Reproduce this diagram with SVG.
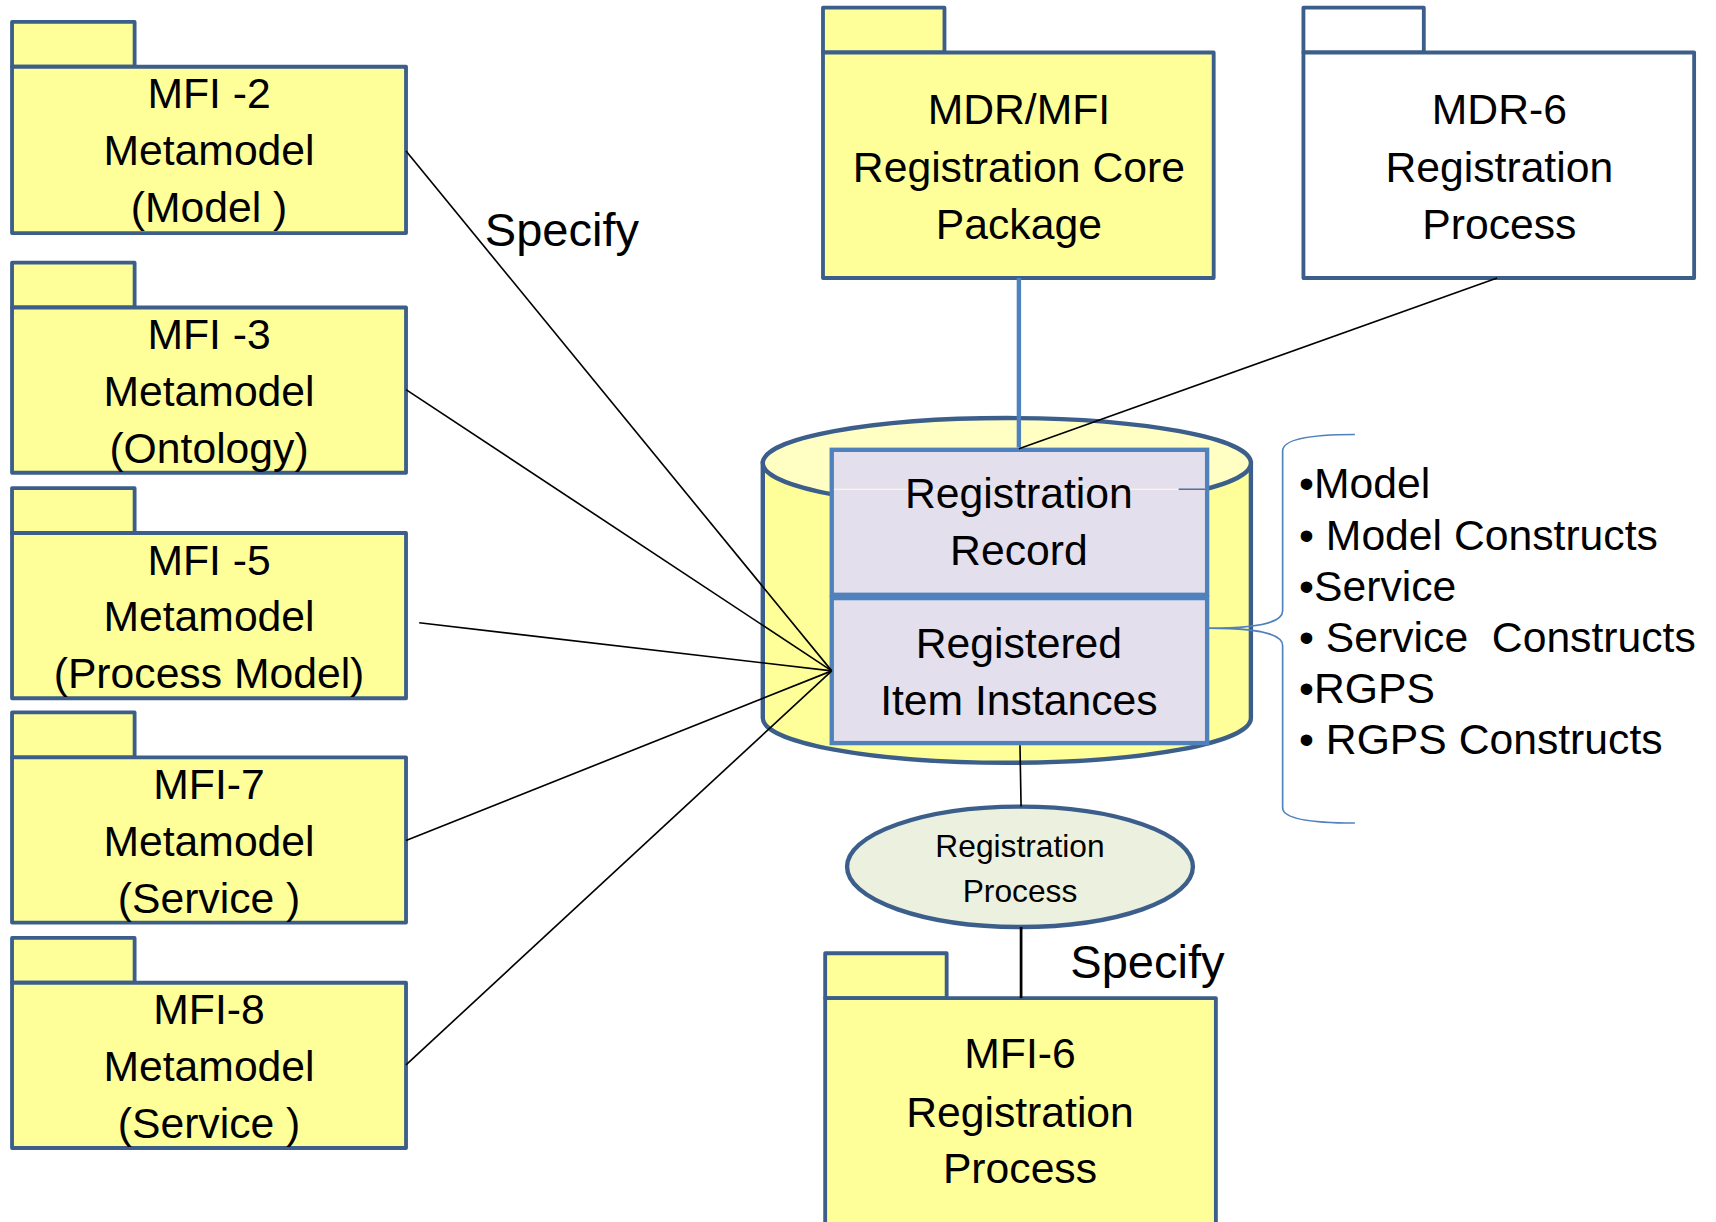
<svg xmlns="http://www.w3.org/2000/svg" width="1716" height="1222" viewBox="0 0 1716 1222">
<style>
.pk{fill:#FFFF99;stroke:#3C5E8B;stroke-width:3.5;stroke-linejoin:round}
.pkw{fill:#FFFFFF;stroke:#3C5E8B;stroke-width:3.5;stroke-linejoin:round}
.lbl{font-family:"Liberation Sans",Arial,sans-serif;font-size:39px;text-anchor:middle;fill:#000}
.sm{font-family:"Liberation Sans",Arial,sans-serif;font-size:29px;text-anchor:middle;fill:#000}
.sp{font-family:"Liberation Sans",Arial,sans-serif;font-size:43px;fill:#000}
.bl{font-family:"Liberation Sans",Arial,sans-serif;font-size:39px;fill:#000}
.cn{stroke:#000;stroke-width:1.5;fill:none}
.rec{fill:#E4DFEC;stroke:#4F81BD;stroke-width:4}
</style>
<rect x="0" y="0" width="1716" height="1222" fill="#FFFFFF"/>
<g transform="scale(1.0944)">
  <g id="mfi2">
    <rect class="pk" x="11" y="20" width="112" height="41"/>
    <rect class="pk" x="11" y="61" width="360" height="152"/>
    <text class="lbl" x="191" y="99">MFI -2</text>
    <text class="lbl" x="191" y="151">Metamodel</text>
    <text class="lbl" x="191" y="203">(Model )</text>
  </g>
  <g id="mfi3">
    <rect class="pk" x="11" y="240" width="112" height="41"/>
    <rect class="pk" x="11" y="281" width="360" height="151"/>
    <text class="lbl" x="191" y="319">MFI -3</text>
    <text class="lbl" x="191" y="371">Metamodel</text>
    <text class="lbl" x="191" y="423">(Ontology)</text>
  </g>
  <g id="mfi5">
    <rect class="pk" x="11" y="446" width="112" height="41"/>
    <rect class="pk" x="11" y="487" width="360" height="151"/>
    <text class="lbl" x="191" y="525">MFI -5</text>
    <text class="lbl" x="191" y="577">Metamodel</text>
    <text class="lbl" x="191" y="629">(Process Model)</text>
  </g>
  <g id="mfi7">
    <rect class="pk" x="11" y="651" width="112" height="41"/>
    <rect class="pk" x="11" y="692" width="360" height="151"/>
    <text class="lbl" x="191" y="730">MFI-7</text>
    <text class="lbl" x="191" y="782">Metamodel</text>
    <text class="lbl" x="191" y="834">(Service )</text>
  </g>
  <g id="mfi8">
    <rect class="pk" x="11" y="857" width="112" height="41"/>
    <rect class="pk" x="11" y="898" width="360" height="151"/>
    <text class="lbl" x="191" y="936">MFI-8</text>
    <text class="lbl" x="191" y="988">Metamodel</text>
    <text class="lbl" x="191" y="1040">(Service )</text>
  </g>
  <g id="mdr-mfi-core">
    <rect class="pk" x="752" y="7" width="111" height="41"/>
    <rect class="pk" x="752" y="48" width="357" height="206"/>
    <text class="lbl" x="931" y="113">MDR/MFI</text>
    <text class="lbl" x="931" y="166">Registration Core</text>
    <text class="lbl" x="931" y="218">Package</text>
  </g>
  <g id="mdr6">
    <rect class="pkw" x="1191" y="7" width="110" height="41"/>
    <rect class="pkw" x="1191" y="48" width="357" height="206"/>
    <text class="lbl" x="1370" y="113">MDR-6</text>
    <text class="lbl" x="1370" y="166">Registration</text>
    <text class="lbl" x="1370" y="218">Process</text>
  </g>
  <g id="repository">
    <path d="M697,423 L697,656 A223,41 0 0 0 1143,656 L1143,423 Z" fill="#FFFF99" stroke="#3C5E8B" stroke-width="4"/>
    <ellipse cx="920" cy="423" rx="223" ry="41" fill="#FFFFC4" stroke="#3C5E8B" stroke-width="4"/>
    <rect class="rec" x="760" y="411" width="343" height="132.5"/>
    <rect class="rec" x="760" y="546.5" width="343" height="132.5"/>
    <line x1="762" y1="447" x2="1077" y2="447" stroke="#FFFFD0" stroke-width="1"/>
    <line x1="1077" y1="447" x2="1101" y2="447" stroke="#3C5E8B" stroke-width="1.2"/>
    <text class="lbl" x="931" y="464">Registration</text>
    <text class="lbl" x="931" y="516">Record</text>
    <text class="lbl" x="931" y="601">Registered</text>
    <text class="lbl" x="931" y="653">Item Instances</text>
  </g>
  <g id="registration-process">
    <ellipse cx="932" cy="792" rx="158" ry="55" fill="#EBF1DE" stroke="#3C5E8B" stroke-width="4"/>
    <text class="sm" x="932" y="783">Registration</text>
    <text class="sm" x="932" y="824">Process</text>
  </g>
  <g id="mfi6">
    <rect class="pk" x="754" y="871" width="111" height="41"/>
    <rect class="pk" x="754" y="912" width="357" height="220"/>
    <text class="lbl" x="932" y="976">MFI-6</text>
    <text class="lbl" x="932" y="1030">Registration</text>
    <text class="lbl" x="932" y="1081">Process</text>
  </g>
  <g id="item-list">
    <path d="M1238,397 C1198,397 1172,401 1172,412 L1172,558 C1172,569 1150,574 1104,574 C1150,574 1172,579 1172,590 L1172,738 C1172,748 1198,752 1238,752" fill="none" stroke="#4F81BD" stroke-width="1.5"/>
    <text class="bl" x="1187" y="455">•Model</text>
    <text class="bl" x="1187" y="503">• Model Constructs</text>
    <text class="bl" x="1187" y="549">•Service</text>
    <text class="bl" x="1187" y="596" xml:space="preserve">• Service  Constructs</text>
    <text class="bl" x="1187" y="642">•RGPS</text>
    <text class="bl" x="1187" y="689">• RGPS Constructs</text>
  </g>
  <g id="connectors">
    <line class="cn" x1="371" y1="138" x2="760" y2="613"/>
    <line class="cn" x1="371" y1="356" x2="760" y2="613"/>
    <line class="cn" x1="383" y1="569" x2="760" y2="613"/>
    <line class="cn" x1="371" y1="768" x2="760" y2="613"/>
    <line class="cn" x1="371" y1="973" x2="760" y2="613"/>
    <line x1="931" y1="254" x2="931" y2="409" stroke="#4F81BD" stroke-width="4"/>
    <line class="cn" x1="1368" y1="254" x2="931" y2="410"/>
    <line class="cn" x1="932" y1="681" x2="933" y2="737"/>
    <line x1="933" y1="847" x2="933" y2="912" stroke="#000" stroke-width="2.5"/>
    <text class="sp" x="443" y="225">Specify</text>
    <text class="sp" x="978" y="894">Specify</text>
  </g>
</g>
</svg>
